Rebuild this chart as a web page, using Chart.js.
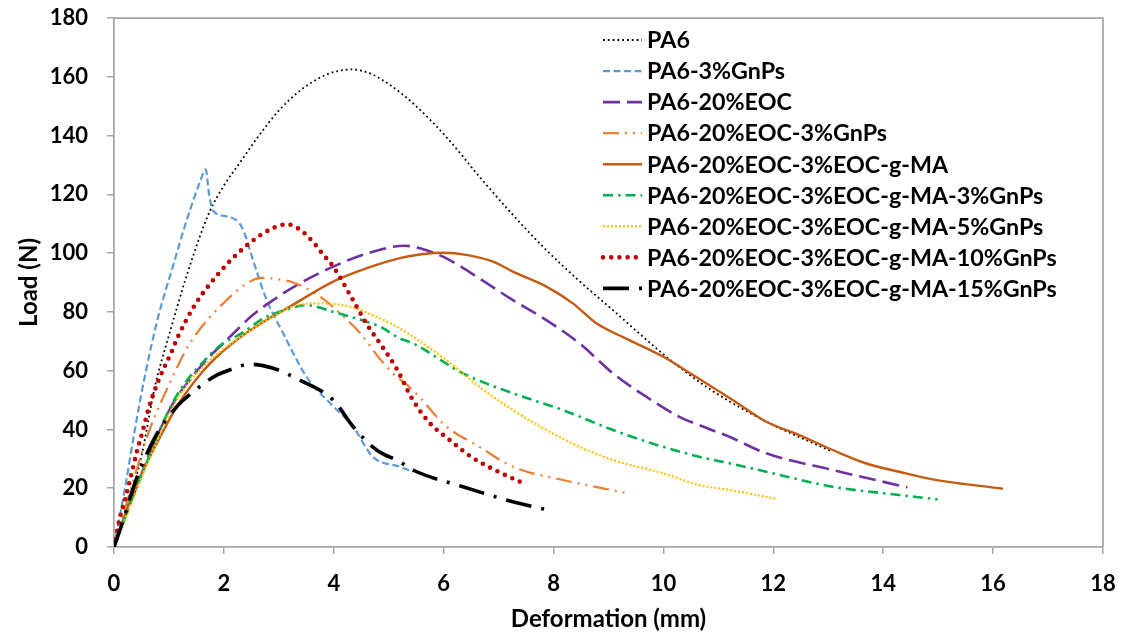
<!DOCTYPE html>
<html>
<head>
<meta charset="utf-8">
<script src="https://cdn.jsdelivr.net/npm/chart.js@4.4.1/dist/chart.umd.min.js"></script>
<style>
  html, body { margin: 0; padding: 0; background: #fff; }
  #wrap { width: 1125px; height: 637px; position: relative; }
</style>
</head>
<body>
<div id="wrap"><canvas id="c" width="1125" height="637"></canvas></div>
<script>
// ---- Data ----
const seriesNames = [
  "PA6",
  "PA6-3%GnPs",
  "PA6-20%EOC",
  "PA6-20%EOC-3%GnPs",
  "PA6-20%EOC-3%EOC-g-MA",
  "PA6-20%EOC-3%EOC-g-MA-3%GnPs",
  "PA6-20%EOC-3%EOC-g-MA-5%GnPs",
  "PA6-20%EOC-3%EOC-g-MA-10%GnPs",
  "PA6-20%EOC-3%EOC-g-MA-15%GnPs"
];
const xTicks = [0, 2, 4, 6, 8, 10, 12, 14, 16, 18];
const yTicks = [0, 20, 40, 60, 80, 100, 120, 140, 160, 180];

const pa6X = [0, 0.25, 0.5, 0.75, 1.0, 1.3, 1.56, 1.75, 2.0, 2.3, 2.6, 3.0, 3.4, 3.75, 4.0, 4.33, 4.7, 5.0, 5.44, 6.05, 6.65, 7.26, 7.87, 8.5, 9.08, 9.6, 10.1, 10.65, 11.16, 12.0, 13.08];
const pa6Y = [0, 14, 31, 55, 72, 91, 105.5, 114.5, 123, 131, 139, 148.5, 155.5, 159.7, 161.6, 162.5, 160.8, 157.5, 151, 139.5, 126, 113, 101, 90, 80.6, 72, 64, 56.2, 50, 41.5, 32.4];

const gnp3X = [0, 0.2, 0.38, 0.56, 0.8, 1.08, 1.32, 1.56, 1.67, 1.73, 1.8, 2.05, 2.29, 2.38, 2.53, 2.78, 3.08, 3.5, 4.0, 4.35, 4.71, 5.2, 5.44];
const gnp3Y = [0, 20, 40, 58, 78, 96, 111, 124, 128.5, 120, 114.5, 112.5, 110, 106.5, 97.6, 84, 72.7, 58, 47.7, 41, 30.7, 27.3, 25.6];

const eocX = [0, 0.3, 0.6, 0.84, 1.08, 1.47, 1.75, 1.99, 2.53, 3.08, 3.38, 3.99, 4.59, 5.29, 5.6, 6.05, 6.65, 7.26, 7.87, 8.47, 9.08, 9.68, 10.29, 10.65, 11.2, 11.87, 13.08, 14.44];
const eocY = [0, 15, 29.5, 40, 49, 59, 65, 69.3, 79, 86.3, 89.7, 95.4, 99.8, 102.5, 101.5, 98.2, 91.4, 84, 77.2, 69.3, 59.1, 51.2, 44.3, 41.5, 37.5, 31.9, 26.2, 20.3];

const eocGnpX = [0, 0.2, 0.44, 0.65, 1.02, 1.38, 2.05, 2.47, 2.68, 3.02, 3.26, 3.6, 3.87, 4.2, 4.47, 4.84, 5.08, 5.44, 6.05, 6.65, 7.26, 8.17, 9.29];
const eocGnpY = [0, 13, 28, 40, 56, 69.3, 84, 90.3, 91.6, 91, 90, 87, 83.5, 78, 73, 64, 59, 53.4, 41, 34.1, 27.3, 22.8, 18.5];

const maX = [0, 0.23, 0.53, 0.84, 1.14, 1.45, 1.75, 2.23, 2.65, 3.2, 3.99, 4.59, 5.2, 5.6, 6.0, 6.41, 6.9, 7.26, 7.87, 8.35, 8.78, 9.38, 9.99, 10.59, 11.26, 11.87, 12.47, 13.08, 13.68, 14.29, 14.9, 16.18];
const maY = [0, 12.6, 26, 37.5, 47.7, 56, 62.5, 70.4, 75.8, 81.8, 90.3, 94.8, 98.3, 99.6, 100.1, 99.4, 97.1, 93.7, 88.6, 82.9, 76.1, 70.4, 64.8, 57.9, 50, 42.6, 38.1, 33, 28.5, 25.6, 23, 19.8];

const ma3X = [0, 0.3, 0.6, 0.84, 1.08, 1.32, 1.5, 1.93, 2.35, 2.72, 3.14, 3.5, 3.99, 4.59, 4.84, 5.2, 5.44, 6.35, 7.26, 8.17, 9.08, 9.99, 10.65, 11.2, 11.87, 13.08, 14.29, 14.99];
const ma3Y = [0, 15, 29, 40, 49.5, 56.5, 60.5, 68.5, 73, 77.8, 80.8, 82.3, 80, 76.7, 75, 71, 69.3, 59.1, 52.3, 46.6, 39.8, 34.1, 30.7, 28.5, 25.6, 20.5, 17.7, 16.2];

const ma5X = [0, 0.3, 0.6, 0.84, 1.08, 1.32, 1.5, 1.93, 2.35, 2.72, 3.26, 3.69, 4.29, 4.84, 5.2, 5.44, 6.05, 6.65, 7.26, 7.87, 8.47, 9.08, 9.99, 10.65, 11.2, 12.05];
const ma5Y = [0, 14, 28, 38.5, 48, 55, 59, 66.5, 72, 76.5, 81.8, 82.9, 81.8, 77.8, 74.4, 71.6, 63.6, 54.5, 46.6, 39.8, 34.1, 29.6, 25.1, 21.1, 19.4, 16.4];

const ma10X = [0, 0.11, 0.2, 0.32, 0.41, 0.53, 0.62, 0.71, 0.84, 1.05, 1.17, 1.48, 1.78, 2.1, 2.46, 2.88, 3.15, 3.35, 3.59, 3.79, 3.99, 4.35, 4.59, 4.87, 5.14, 5.44, 5.75, 6.11, 6.5, 6.93, 7.39];
const ma10Y = [0, 10.3, 16, 25, 32, 40, 46.6, 51.7, 58, 66.5, 71.8, 82.6, 90.3, 97.1, 103.3, 108.4, 109.8, 108.4, 104.5, 99.9, 95.4, 84, 76.1, 68.5, 60.8, 50, 42.1, 36.4, 30.7, 26.2, 22.2];

const ma15X = [0, 0.17, 0.38, 0.75, 1.14, 1.44, 1.64, 1.87, 2.11, 2.47, 2.9, 3.38, 3.99, 4.35, 4.78, 5.2, 5.44, 6.35, 7.26, 7.9];
const ma15Y = [0, 9.2, 21.7, 37.5, 47.7, 52.8, 55.7, 58.5, 60.3, 62.2, 60.8, 56.8, 50, 41, 33, 29, 26.2, 20.5, 15.4, 12.6];

const allX = [pa6X, gnp3X, eocX, eocGnpX, maX, ma3X, ma5X, ma10X, ma15X];
const allY = [pa6Y, gnp3Y, eocY, eocGnpY, maY, ma3Y, ma5Y, ma10Y, ma15Y];

// ---- Styles ----
const styles = [
  { color: "#000000", width: 1.8, dash: [1.8, 3], cap: "butt" },
  { color: "#5B9BD5", width: 2.2, dash: [7, 3.5], cap: "butt" },
  { color: "#7030A0", width: 2.6, dash: [17, 7], cap: "butt" },
  { color: "#ED7D31", width: 2.2, dash: [16, 6, 2, 6, 2, 6], cap: "butt" },
  { color: "#C55A11", width: 2.4, dash: [], cap: "butt" },
  { color: "#00B050", width: 2.6, dash: [10, 5, 2.5, 5], cap: "butt" },
  { color: "#FFC000", width: 2.2, dash: [2, 2], cap: "butt" },
  { color: "#C00000", width: 4.6, dash: [0, 8.2], cap: "round" },
  { color: "#000000", width: 3.6, dash: [26, 10, 3, 10], cap: "butt" }
];

const FONT = "Lato, 'Open Sans', 'Liberation Sans', sans-serif";
const AXIS_COLOR = "#A6A6A6";

const datasets = seriesNames.map((name, i) => ({
  label: name,
  data: allX[i].map((x, k) => ({ x: x, y: allY[i][k] })),
  showLine: true,
  borderColor: styles[i].color,
  backgroundColor: styles[i].color,
  borderWidth: styles[i].width,
  borderDash: styles[i].dash,
  borderCapStyle: styles[i].cap,
  borderJoinStyle: "round",
  pointRadius: 0,
  pointHoverRadius: 0,
  cubicInterpolationMode: "monotone",
  fill: false,
  order: -i
}));

const frameAndLegend = {
  id: "frameAndLegend",
  beforeDatasetsDraw(chart) {
    const ctx = chart.ctx, a = chart.chartArea;
    ctx.save();
    ctx.strokeStyle = AXIS_COLOR;
    ctx.lineWidth = 1.75;
    ctx.beginPath();
    ctx.moveTo(a.left, a.top);
    ctx.lineTo(a.right, a.top);
    ctx.lineTo(a.right, a.bottom);
    ctx.stroke();
    ctx.restore();
  },
  afterDraw(chart) {
    const ctx = chart.ctx;
    ctx.save();
    let size = 24;
    ctx.font = "bold " + size + "px " + FONT;
    const longest = Math.max(...seriesNames.map(n => ctx.measureText(n).width));
    size = size * 410 / longest;
    ctx.font = "bold " + size.toFixed(2) + "px " + FONT;
    ctx.textAlign = "left";
    ctx.textBaseline = "alphabetic";
    seriesNames.forEach((name, i) => {
      const y = 40 + 31.05 * i;
      const st = styles[i];
      ctx.strokeStyle = st.color;
      ctx.lineWidth = st.width;
      ctx.setLineDash(st.dash);
      ctx.lineCap = st.cap;
      ctx.beginPath();
      ctx.moveTo(603, y);
      ctx.lineTo(642, y);
      ctx.stroke();
      ctx.setLineDash([]);
      ctx.fillStyle = "#000";
      ctx.fillText(name, 647, y + 8.3);
    });
    ctx.restore();
  }
};

new Chart(document.getElementById("c"), {
  type: "scatter",
  data: { datasets: datasets },
  options: {
    responsive: false,
    animation: false,
    devicePixelRatio: 1,
    layout: { padding: { top: 18, right: 22, left: 0, bottom: 0 } },
    plugins: { legend: { display: false }, tooltip: { enabled: false } },
    scales: {
      x: {
        type: "linear",
        min: 0, max: 18,
        afterFit: s => { s.height = 90; s.paddingLeft = 0; s.paddingRight = 0; },
        afterBuildTicks: s => { s.ticks = xTicks.map(v => ({ value: v })); },
        ticks: { color: "#000", font: { family: FONT, weight: "bold", size: 22 }, padding: 17 },
        grid: { drawOnChartArea: false, drawTicks: true, tickLength: 7, color: AXIS_COLOR, lineWidth: 1.5 },
        border: { display: true, color: AXIS_COLOR, width: 1.75 },
        title: { display: true, text: "Deformation (mm)", color: "#000",
                 font: { family: FONT, weight: "bold", size: 24 }, padding: { top: 0, bottom: 3 } }
      },
      y: {
        type: "linear",
        min: 0, max: 180,
        afterFit: s => { s.width = 114; s.paddingTop = 0; s.paddingBottom = 0; },
        afterBuildTicks: s => { s.ticks = yTicks.map(v => ({ value: v })); },
        ticks: { color: "#000", font: { family: FONT, weight: "bold", size: 22 }, padding: 19 },
        grid: { drawOnChartArea: false, drawTicks: true, tickLength: 7, color: AXIS_COLOR, lineWidth: 1.5 },
        border: { display: true, color: AXIS_COLOR, width: 1.75 },
        title: { display: true, text: "Load (N)", color: "#000",
                 font: { family: FONT, weight: "bold", size: 24 }, padding: { top: 15, bottom: 0 } }
      }
    }
  },
  plugins: [frameAndLegend]
});
</script>
</body>
</html>
